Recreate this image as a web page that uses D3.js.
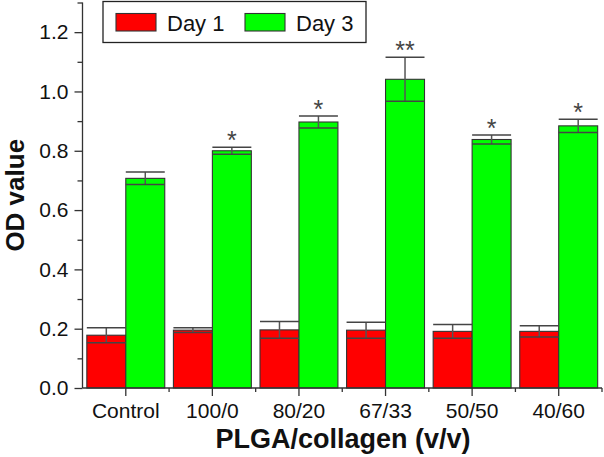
<!DOCTYPE html>
<html>
<head>
<meta charset="utf-8">
<script src="https://cdn.jsdelivr.net/npm/d3@7"></script>
<style>
  html, body { margin: 0; padding: 0; background: #fff; }
  svg { display: block; font-family: Arial, "Liberation Sans", Helvetica, sans-serif; }
</style>
</head>
<body>
<svg id="chart" width="604" height="457"></svg>
<script>
const categories = ["Control", "100/0", "80/20", "67/33", "50/50", "40/60"];
const day1Values = [0.178, 0.195, 0.196, 0.195, 0.191, 0.191];
const day1Errors = [0.025, 0.008, 0.028, 0.027, 0.023, 0.019];
const day3Values = [0.707, 0.800, 0.897, 1.041, 0.838, 0.884];
const day3Errors = [0.021, 0.012, 0.020, 0.074, 0.015, 0.022];
const significance = ["", "*", "*", "**", "*", "*"];
const seriesNames = ["Day 1", "Day 3"];
const yMajorTicks = [0, 0.2, 0.4, 0.6, 0.8, 1.0, 1.2];
const yMinorTicks = [0.1, 0.3, 0.5, 0.7, 0.9, 1.1, 1.3];

const colors = ["#ff0000", "#00ff00"];
const axisColor = "#333";

const svg = d3.select("#chart");
const plot = { left: 82.5, right: 602, top: 2.5, bottom: 388 };

const x = d3.scaleBand().domain(categories).range([plot.left, plot.right]).padding(0);
const y = d3.scaleLinear().domain([0, 1.3]).range([plot.bottom, plot.top]);
const step = x.bandwidth();
const barW = step * 0.45;

const series = [
  { name: seriesNames[0], values: day1Values, errors: day1Errors, color: colors[0], offset: -barW },
  { name: seriesNames[1], values: day3Values, errors: day3Errors, color: colors[1], offset: 0 }
];

// Bars
series.forEach(s => {
  const g = svg.append("g");
  categories.forEach((c, i) => {
    const cx = x(c) + step / 2;
    const x0 = cx + s.offset;
    g.append("rect")
      .attr("x", x0).attr("y", y(s.values[i]))
      .attr("width", barW).attr("height", y(0) - y(s.values[i]))
      .attr("fill", s.color).attr("stroke", axisColor).attr("stroke-width", 1.1);
  });
});

// Error bars
series.forEach(s => {
  const g = svg.append("g");
  categories.forEach((c, i) => {
    const cx = x(c) + step / 2;
    const x0 = cx + s.offset;
    const mx = x0 + barW / 2;
    const hi = y(s.values[i] + s.errors[i]);
    const lo = y(s.values[i] - s.errors[i]);
    g.append("line").attr("x1", mx).attr("x2", mx).attr("y1", hi).attr("y2", lo)
      .attr("stroke", "#555").attr("stroke-width", 1.5);
    [hi, lo].forEach(yy => {
      g.append("line").attr("x1", x0).attr("x2", x0 + barW).attr("y1", yy).attr("y2", yy)
        .attr("stroke", "#444").attr("stroke-width", 1.5);
    });
  });
});

// Significance marks above Day 3 bars
categories.forEach((c, i) => {
  if (!significance[i]) return;
  const cx = x(c) + step / 2 + barW / 2;
  svg.append("text")
    .attr("x", cx).attr("y", y(day3Values[i] + day3Errors[i]) + 2)
    .attr("text-anchor", "middle").attr("font-size", 25).attr("fill", "#444")
    .text(significance[i]);
});

// Y axis
const yAxis = svg.append("g").attr("transform", `translate(${plot.left},0)`)
  .call(d3.axisLeft(y).tickValues(yMajorTicks).tickSize(8).tickPadding(6).tickFormat(d3.format(".1f")));
svg.append("g").attr("transform", `translate(${plot.left},0)`)
  .call(d3.axisLeft(y).tickValues(yMinorTicks).tickSize(5).tickFormat(""))
  .call(g => g.select(".domain").remove());

// X axis
const xAxis = svg.append("g").attr("transform", `translate(0,${plot.bottom})`)
  .call(d3.axisBottom(x).tickSize(8).tickPadding(7));
const boundaries = categories.map(c => x(c)).concat([plot.right]).slice(1);
svg.append("g").selectAll("line").data(boundaries).join("line")
  .attr("x1", d => d).attr("x2", d => d).attr("y1", plot.bottom).attr("y2", plot.bottom + 4)
  .attr("stroke", axisColor).attr("stroke-width", 1.3);

[yAxis, xAxis].forEach(a => {
  a.selectAll("path.domain").attr("stroke", axisColor).attr("stroke-width", 1.3);
  a.selectAll(".tick text").attr("font-size", 21).attr("fill", "#111")
    .attr("font-family", "Arial, 'Liberation Sans', sans-serif");
});
svg.selectAll("g .tick line").attr("stroke", axisColor).attr("stroke-width", 1.3);
xAxis.select("path.domain").attr("d", `M${plot.left},0H${plot.right}`);
yAxis.select("path.domain").attr("d", `M0,${plot.top}V${plot.bottom}`);

// Axis titles
svg.append("text")
  .attr("transform", `translate(24,${(plot.top + plot.bottom) / 2}) rotate(-90)`)
  .attr("text-anchor", "middle").attr("font-size", 26).attr("font-weight", "bold").attr("fill", "#111")
  .text("OD value");
svg.append("text")
  .attr("x", 343).attr("y", 448)
  .attr("text-anchor", "middle").attr("font-size", 27).attr("font-weight", "bold").attr("fill", "#111")
  .text("PLGA/collagen (v/v)");

// Legend
const legend = svg.append("g");
legend.append("rect").attr("x", 103).attr("y", 1.5).attr("width", 263).attr("height", 41)
  .attr("fill", "#fff").attr("stroke", "#222").attr("stroke-width", 1.3);
const legendX = [116, 245];
series.forEach((s, i) => {
  legend.append("rect").attr("x", legendX[i]).attr("y", 13.5).attr("width", 40).attr("height", 17.5)
    .attr("fill", s.color).attr("stroke", axisColor).attr("stroke-width", 1.1);
  legend.append("text").attr("x", legendX[i] + 51).attr("y", 31)
    .attr("font-size", 22).attr("fill", "#111").text(s.name);
});
</script>
</body>
</html>
